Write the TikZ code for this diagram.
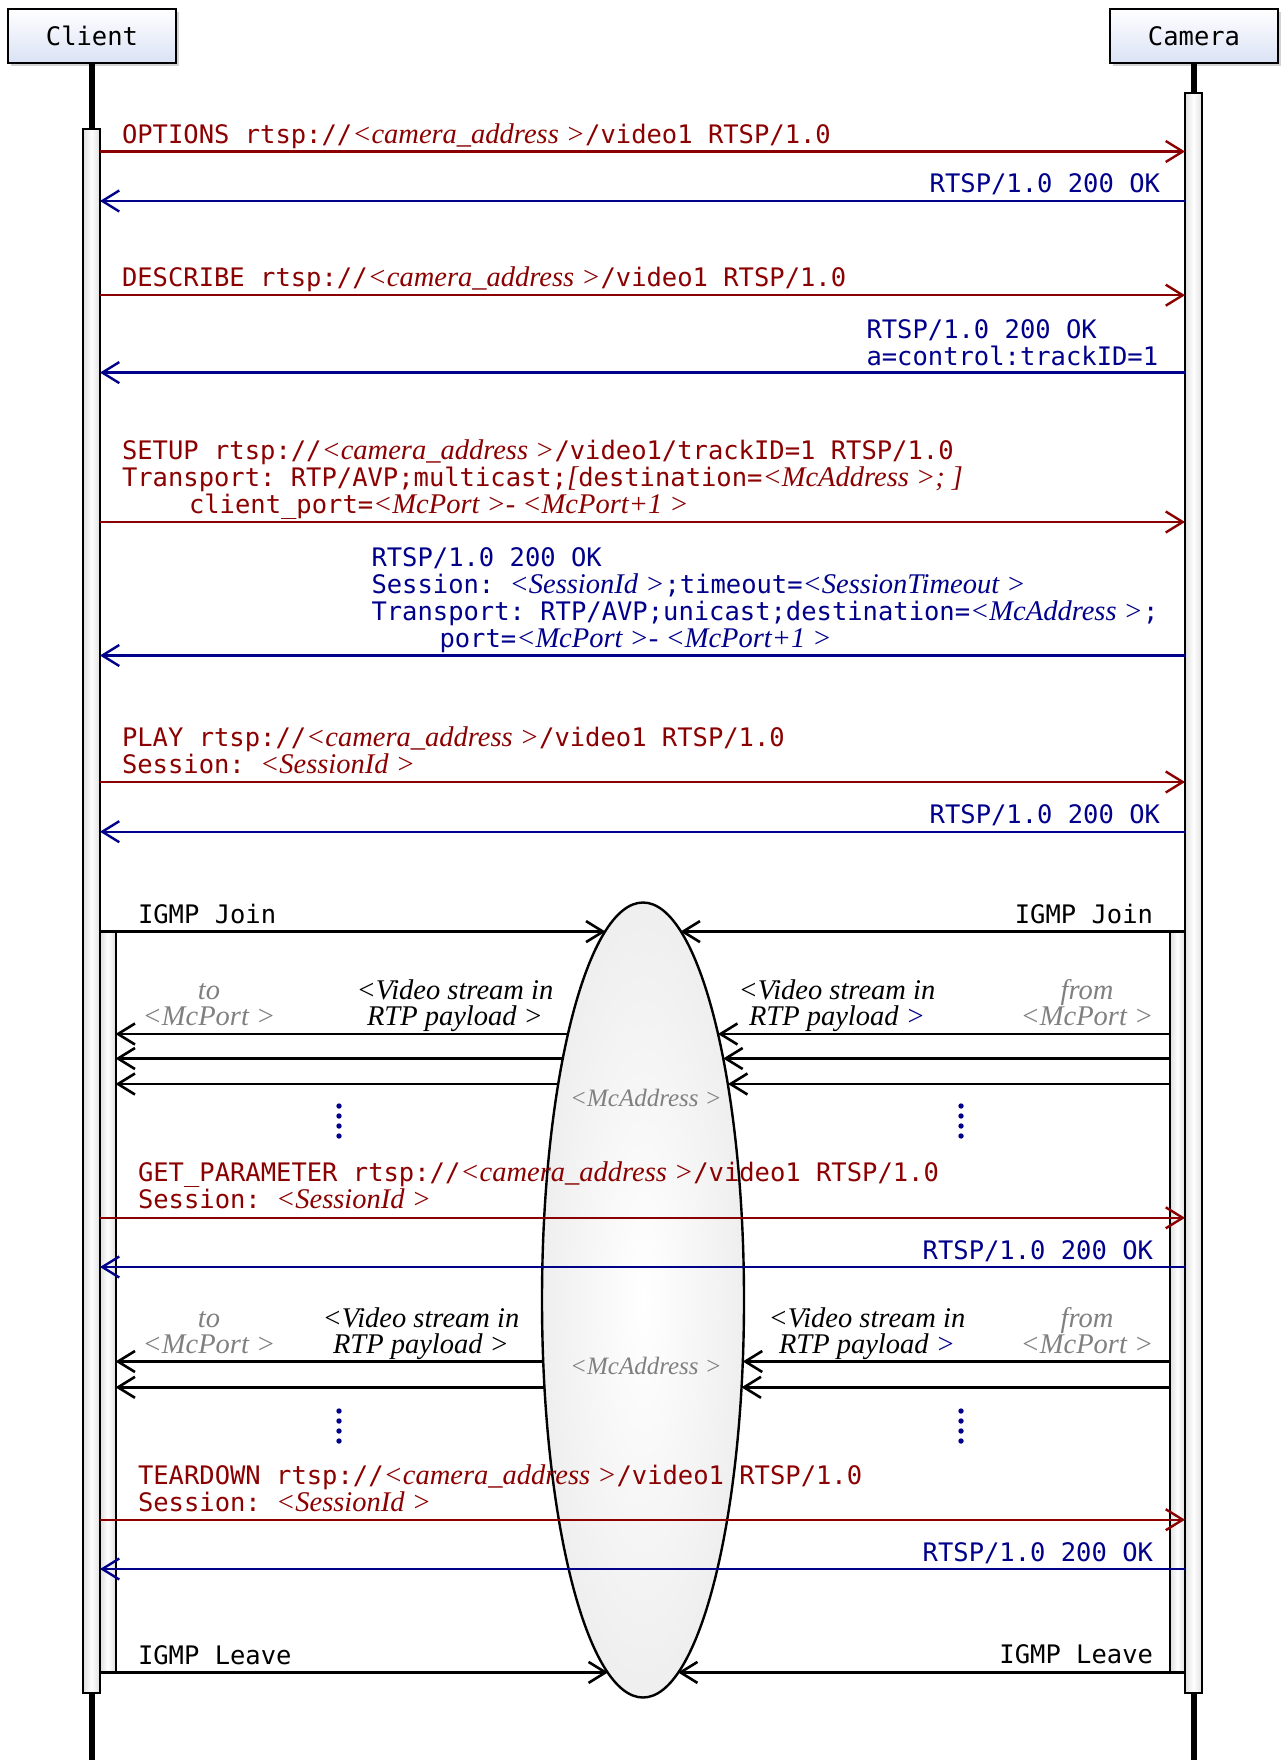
\documentclass[tikz,border=0pt]{standalone}
\usepackage{fontspec}
\setmonofont{DejaVu Sans Mono}
\newfontfamily\ser{Liberation Serif}
\usetikzlibrary{arrows.meta,shapes.geometric,shadows}
\definecolor{reqc}{RGB}{139,0,0}
\definecolor{rspc}{RGB}{0,0,139}
\definecolor{lblc}{RGB}{128,128,128}
\definecolor{boxc}{RGB}{218,226,245}
\newcommand\vi[1]{{\ser\itshape\fontsize{28.5}{27}\selectfont #1}}
\begin{document}
\begin{tikzpicture}[x=1pt,y=-1pt,
  mono/.style={font=\fontsize{25.5}{27}\selectfont\ttfamily, inner sep=0pt, outer sep=0pt, align=left},
  lab/.style={font=\fontsize{28.5}{26}\selectfont\ser\itshape, inner sep=0pt, outer sep=0pt, align=center},
  actor/.style={draw, line width=1.8pt, minimum width=168pt, minimum height=54pt, top color=white, bottom color=boxc, drop shadow={opacity=0.35,shadow xshift=3pt,shadow yshift=-3pt}, font=\fontsize{25.5}{27}\selectfont\ttfamily},
  life/.style={line width=5.5pt},
  actbar/.style={draw, line width=2pt, inner sep=0pt, outer sep=0pt, left color=gray!25, right color=gray!25, middle color=white},
  arr/.style={-{Straight Barb[length=17pt,width=21pt]}},
  req/.style={arr, draw=reqc, line width=2.4pt},
  rsp/.style={arr, draw=rspc, line width=2.4pt},
  dat/.style={arr, draw=black, line width=2.6pt},
  dotc/.style={fill=rspc}]
\useasboundingbox (0,0) rectangle (1284,1760);

% actors and lifelines
\node[actor] (client) at (92,36) {Client};
\node[actor] (camera) at (1194,36) {Camera};
\coordinate (clientend) at (92,1760);
\coordinate (cameraend) at (1194,1760);
\draw[life] (client.south) -- (clientend);
\draw[life] (camera.south) -- (cameraend);

% activation bars
\node[actbar, minimum width=17pt, minimum height=1564pt] (cact) at (91.5,911) {};
\node[actbar, minimum width=17pt, minimum height=1600pt] (kact) at (1193.5,893) {};
\node[actbar, minimum width=15.5pt, minimum height=740.8pt] (cin) at (107.75,1302) {};
\node[actbar, minimum width=15pt, minimum height=740.8pt] (kin) at (1177.5,1302) {};

% multicast ellipse
\node[draw, ellipse, line width=2.4pt, minimum width=202pt, minimum height=795pt, inner sep=0pt, outer sep=0pt, inner color=white, outer color=gray!13] (mc) at (643,1300) {};
\node[lab, text=lblc, anchor=base, font=\fontsize{25}{26}\selectfont\ser\itshape] (mca1) at (646,1106) {<McAddress >};
\node[lab, text=lblc, anchor=base, font=\fontsize{25}{26}\selectfont\ser\itshape] (mca2) at (646,1374) {<McAddress >};

% points on the ellipse border
\coordinate (jL) at (605.5,931.6);  \coordinate (jR) at (680.5,931.6);
\coordinate (lL) at (608,1672.4);   \coordinate (lR) at (678,1672.4);
\coordinate (vl1) at (568,1034);    \coordinate (vr1) at (718,1034);
\coordinate (vl2) at (562.8,1058.5);\coordinate (vr2) at (723.2,1058.5);
\coordinate (vl3) at (558,1084);    \coordinate (vr3) at (728,1084);
\coordinate (vl4) at (543.2,1361.5);\coordinate (vr4) at (742.8,1361.5);
\coordinate (vl5) at (544.5,1387.3);\coordinate (vr5) at (741.5,1387.3);

% RTSP messages
\draw[req] (cact.east |- 0,151.5) -- (kact.west |- 0,151.5);
\node[mono, text=reqc, anchor=base west] (m1) at (122,143.5) {OPTIONS rtsp://\vi{<camera\_address >}/video1 RTSP/1.0};
\draw[rsp] (kact.west |- 0,201) -- (cact.east |- 0,201);
\node[mono, text=rspc, anchor=base east] (r1) at (1160,193) {RTSP/1.0 200 OK};

\draw[req] (cact.east |- 0,295.2) -- (kact.west |- 0,295.2);
\node[mono, text=reqc, anchor=base west] (m2) at (122,287) {DESCRIBE rtsp://\vi{<camera\_address >}/video1 RTSP/1.0};
\draw[rsp] (kact.west |- 0,372.6) -- (cact.east |- 0,372.6);
\node[mono, text=rspc, anchor=base west] (r2) at (866.5,365) {RTSP/1.0 200 OK\\a=control:trackID=1};

\draw[req] (cact.east |- 0,522) -- (kact.west |- 0,522);
\node[mono, text=reqc, anchor=base west] (m3) at (122,513) {SETUP rtsp://\vi{<camera\_address >}/video1/trackID=1 RTSP/1.0\\Transport: RTP/AVP;multicast;\vi{[}destination=\vi{<McAddress >; ]}\\\hspace*{67pt}client\_port=\vi{<McPort >- <McPort+1 >}};
\draw[rsp] (kact.west |- 0,655.5) -- (cact.east |- 0,655.5);
\node[mono, text=rspc, anchor=base west] (r3) at (371.5,647.6) {RTSP/1.0 200 OK\\Session: \vi{<SessionId >};timeout=\vi{<SessionTimeout >}\\Transport: RTP/AVP;unicast;destination=\vi{<McAddress >};\\\hspace*{68pt}port=\vi{<McPort >- <McPort+1 >}};

\draw[req] (cact.east |- 0,782) -- (kact.west |- 0,782);
\node[mono, text=reqc, anchor=base west] (m4) at (122,773) {PLAY rtsp://\vi{<camera\_address >}/video1 RTSP/1.0\\Session: \vi{<SessionId >}};
\draw[rsp] (kact.west |- 0,831.7) -- (cact.east |- 0,831.7);
\node[mono, text=rspc, anchor=base east] (r4) at (1160,823) {RTSP/1.0 200 OK};

% IGMP join
\draw[dat] (cact.east |- jL) -- (jL);
\draw[dat] (kact.west |- jR) -- (jR);
\node[mono, anchor=base west] (ij1) at (138,923.5) {IGMP Join};
\node[mono, anchor=base east] (ij2) at (1153,923.5) {IGMP Join};

% first video stream block
\draw[dat] (vl1) -- (cin.east |- vl1);
\draw[dat] (vl2) -- (cin.east |- vl2);
\draw[dat] (vl3) -- (cin.east |- vl3);
\draw[dat] (kin.west |- vr1) -- (vr1);
\draw[dat] (kin.west |- vr2) -- (vr2);
\draw[dat] (kin.west |- vr3) -- (vr3);
\node[lab, text=lblc, anchor=base] (to1) at (209,1025) {to\\<McPort >};
\node[lab, anchor=base] (vs1) at (455,1025) {<Video stream in\\RTP payload >};
\node[lab, anchor=base] (vs2) at (837,1025) {<Video stream in\\RTP payload \textcolor{rspc}{>}};
\node[lab, text=lblc, anchor=base] (fr1) at (1087,1025) {from\\<McPort >};
\foreach \yy in {1106,1116,1126,1136} {
  \fill[dotc] (339,\yy) circle (2.7pt);
  \fill[dotc] (961,\yy) circle (2.7pt);
}

% GET_PARAMETER
\draw[req] (cact.east |- 0,1217.8) -- (kact.west |- 0,1217.8);
\node[mono, text=reqc, anchor=base west] (m5) at (138,1208) {GET\_PARAMETER rtsp://\vi{<camera\_address >}/video1 RTSP/1.0\\Session: \vi{<SessionId >}};
\draw[rsp] (kact.west |- 0,1267) -- (cact.east |- 0,1267);
\node[mono, text=rspc, anchor=base east] (r5) at (1153,1259) {RTSP/1.0 200 OK};

% second video stream block
\draw[dat] (vl4) -- (cin.east |- vl4);
\draw[dat] (vl5) -- (cin.east |- vl5);
\draw[dat] (kin.west |- vr4) -- (vr4);
\draw[dat] (kin.west |- vr5) -- (vr5);
\node[lab, text=lblc, anchor=base] (to2) at (209,1353.5) {to\\<McPort >};
\node[lab, anchor=base] (vs3) at (421,1353.5) {<Video stream in\\RTP payload >};
\node[lab, anchor=base] (vs4) at (867,1353.5) {<Video stream in\\RTP payload \textcolor{rspc}{>}};
\node[lab, text=lblc, anchor=base] (fr2) at (1087,1353.5) {from\\<McPort >};
\foreach \yy in {1411,1421,1431,1441} {
  \fill[dotc] (339,\yy) circle (2.7pt);
  \fill[dotc] (961,\yy) circle (2.7pt);
}

% TEARDOWN
\draw[req] (cact.east |- 0,1519.7) -- (kact.west |- 0,1519.7);
\node[mono, text=reqc, anchor=base west] (m6) at (138,1511) {TEARDOWN rtsp://\vi{<camera\_address >}/video1 RTSP/1.0\\Session: \vi{<SessionId >}};
\draw[rsp] (kact.west |- 0,1569) -- (cact.east |- 0,1569);
\node[mono, text=rspc, anchor=base east] (r6) at (1153,1561) {RTSP/1.0 200 OK};

% IGMP leave
\draw[dat] (cact.east |- lL) -- (lL);
\draw[dat] (kact.west |- lR) -- (lR);
\node[mono, anchor=base west] (il1) at (138,1664) {IGMP Leave};
\node[mono, anchor=base east] (il2) at (1153,1663) {IGMP Leave};
\end{tikzpicture}
\end{document}
